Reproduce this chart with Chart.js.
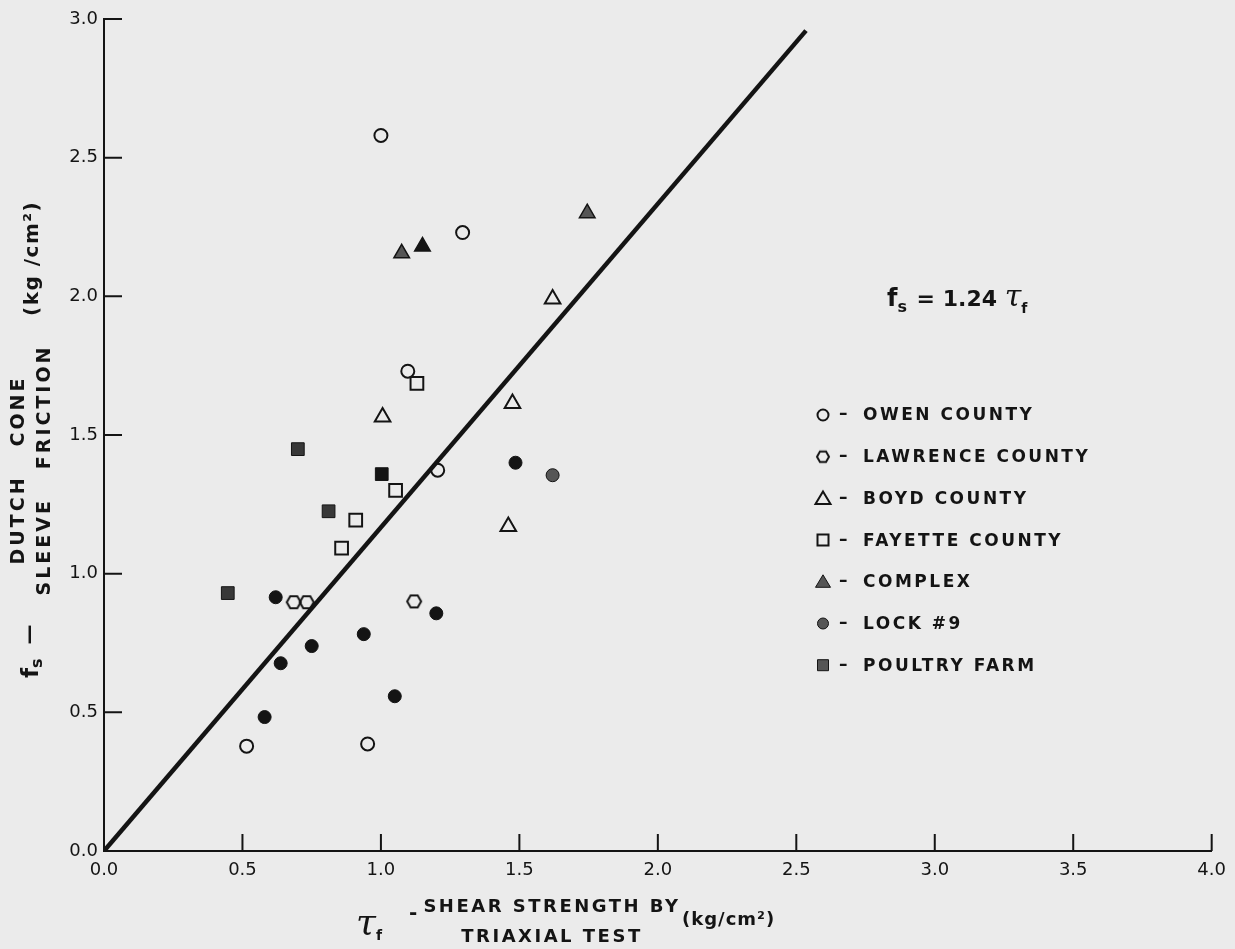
<!DOCTYPE html>
<html>
<head>
<meta charset="utf-8">
<script src="https://cdn.jsdelivr.net/npm/chart.js@4.4.0/dist/chart.umd.min.js"></script>
<style>
  html, body { margin: 0; padding: 0; background: #ebebeb; }
  #wrap { width: 1235px; height: 949px; position: relative; }
</style>
</head>
<body>
<div id="wrap"><canvas id="myChart"></canvas></div>
<script>
// values (tau_f, f_s in kg/cm2)
const owenX = [1.00, 1.295, 1.097, 1.205, 0.515, 0.952];
const owenY = [2.58, 2.23, 1.73, 1.373, 0.378, 0.386];

const lawrenceX = [0.685, 0.732, 1.12];
const lawrenceY = [0.897, 0.897, 0.90];

const boydX = [1.62, 1.475, 1.006, 1.46];
const boydY = [1.99, 1.614, 1.565, 1.17];

const fayetteX = [1.13, 1.053, 0.909, 0.858];
const fayetteY = [1.686, 1.30, 1.193, 1.092];

const complexX = [1.745, 1.15, 1.075];
const complexY = [2.30, 2.18, 2.155];

const lockX = [1.486, 1.62, 0.62, 1.20, 0.938, 0.75, 0.638, 1.05, 0.58];
const lockY = [1.40, 1.355, 0.915, 0.857, 0.782, 0.739, 0.677, 0.558, 0.483];

const poultryX = [0.70, 1.003, 0.811, 0.447];
const poultryY = [1.449, 1.359, 1.225, 0.93];

// fitted line fs = 1.24 tau_f as drawn
const fitX = [0, 2.535];
const fitY = [0, 2.958];

const xTickLabels = ["0.0", "0.5", "1.0", "1.5", "2.0", "2.5", "3.0", "3.5", "4.0"];
const yTickLabels = ["0.0", "0.5", "1.0", "1.5", "2.0", "2.5", "3.0"];

const INK = "#141414";
const GREY = "#555555";
const DARK = "#383838";
const FONT = "'DejaVu Sans', sans-serif";

function pts(xs, ys) {
  return xs.map((x, i) => ({ x: x, y: ys[i] }));
}

function makeHex(r, lw) {
  const c = document.createElement("canvas");
  const s = Math.ceil(2 * r + lw + 2);
  c.width = s;
  c.height = s;
  const g = c.getContext("2d");
  g.strokeStyle = INK;
  g.lineWidth = lw;
  g.beginPath();
  for (let k = 0; k < 6; k++) {
    const a = (Math.PI / 3) * k;
    const px = s / 2 + r * Math.cos(a);
    const py = s / 2 + r * Math.sin(a);
    if (k) g.lineTo(px, py); else g.moveTo(px, py);
  }
  g.closePath();
  g.stroke();
  return c;
}

const hexPlot = makeHex(7, 2);
const hexLegend = makeHex(6, 2);

const openStyle = {
  backgroundColor: "rgba(0,0,0,0)",
  borderColor: INK,
  borderWidth: 2,
};

const datasets = [
  {
    label: "OWEN COUNTY",
    data: pts(owenX, owenY),
    pointStyle: "circle",
    pointRadius: 6.5,
    ...openStyle,
  },
  {
    label: "LAWRENCE COUNTY",
    data: pts(lawrenceX, lawrenceY),
    pointStyle: hexPlot,
    pointRadius: 7,
    ...openStyle,
  },
  {
    label: "BOYD COUNTY",
    data: pts(boydX, boydY),
    pointStyle: "triangle",
    pointRadius: 9,
    ...openStyle,
  },
  {
    label: "FAYETTE COUNTY",
    data: pts(fayetteX, fayetteY),
    pointStyle: "rect",
    pointRadius: 9,
    ...openStyle,
  },
  {
    label: "COMPLEX",
    data: pts(complexX, complexY),
    pointStyle: "triangle",
    pointRadius: 9,
    backgroundColor: (c) => (c.dataIndex === 1 ? INK : GREY),
    borderColor: INK,
    borderWidth: 1.5,
  },
  {
    label: "LOCK #9",
    data: pts(lockX, lockY),
    pointStyle: "circle",
    pointRadius: 6.5,
    backgroundColor: (c) => (c.dataIndex === 1 ? GREY : INK),
    borderColor: INK,
    borderWidth: 1,
  },
  {
    label: "POULTRY FARM",
    data: pts(poultryX, poultryY),
    pointStyle: "rect",
    pointRadius: 9,
    backgroundColor: (c) => (c.dataIndex === 1 ? INK : DARK),
    borderColor: INK,
    borderWidth: 1,
  },
  {
    label: "fit",
    data: pts(fitX, fitY),
    showLine: true,
    pointRadius: 0,
    borderColor: INK,
    borderWidth: 4.5,
    order: 1,
  },
];

function spacedText(ctx, text, x, y, spacing) {
  ctx.letterSpacing = spacing + "px";
  ctx.fillText(text, x, y);
  ctx.letterSpacing = "0px";
}

// draw a row of text pieces from left to right
function runs(ctx, list, x, y) {
  let cx = x;
  list.forEach((r) => {
    ctx.font = r.font;
    ctx.letterSpacing = (r.sp || 0) + "px";
    ctx.fillText(r.t, cx + (r.dx || 0), y + (r.dy || 0));
    cx += ctx.measureText(r.t).width + (r.dx || 0);
  });
  ctx.letterSpacing = "0px";
}

function legendMarker(ctx, ds, x, y) {
  ctx.save();
  ctx.strokeStyle = INK;
  ctx.lineWidth = 2;
  const fill = typeof ds.backgroundColor === "function" ? GREY : null;
  ctx.fillStyle = fill || "rgba(0,0,0,0)";
  if (ds.pointStyle instanceof HTMLCanvasElement) {
    ctx.drawImage(hexLegend, x - hexLegend.width / 2, y - hexLegend.height / 2);
    ctx.restore();
    return;
  }
  ctx.beginPath();
  if (ds.pointStyle === "circle") {
    ctx.arc(x, y, 5.5, 0, Math.PI * 2);
  } else if (ds.pointStyle === "rect") {
    ctx.rect(x - 5.5, y - 5.5, 11, 11);
  } else {
    ctx.moveTo(x, y - 7);
    ctx.lineTo(x + 7.5, y + 5.5);
    ctx.lineTo(x - 7.5, y + 5.5);
    ctx.closePath();
  }
  if (fill) {
    ctx.fill();
    ctx.lineWidth = 1;
  }
  ctx.stroke();
  ctx.restore();
}

const decorations = {
  id: "decorations",
  beforeDraw(chart) {
    const ctx = chart.ctx;
    ctx.save();
    ctx.fillStyle = "#ebebeb";
    ctx.fillRect(0, 0, chart.width, chart.height);
    ctx.restore();
  },
  afterDraw(chart) {
    const ctx = chart.ctx;
    const { x, y } = chart.scales;
    const area = chart.chartArea;
    ctx.save();

    // inward tick marks
    ctx.strokeStyle = INK;
    ctx.lineWidth = 2;
    ctx.beginPath();
    x.ticks.forEach((t) => {
      if (t.value === 0) return;
      const px = x.getPixelForValue(t.value);
      ctx.moveTo(px, area.bottom);
      ctx.lineTo(px, area.bottom - 17);
    });
    y.ticks.forEach((t) => {
      if (t.value === 0) return;
      const py = y.getPixelForValue(t.value);
      ctx.moveTo(area.left, py);
      ctx.lineTo(area.left + 18, py);
    });
    ctx.stroke();

    ctx.fillStyle = INK;
    ctx.textBaseline = "alphabetic";

    // y axis title (rotated)
    ctx.save();
    ctx.translate(24, 470);
    ctx.rotate(-Math.PI / 2);
    ctx.textAlign = "center";
    ctx.font = "bold 19px " + FONT;
    spacedText(ctx, "DUTCH   CONE", 0, 0, 3);
    spacedText(ctx, "SLEEVE   FRICTION", 0, 26, 3);
    ctx.restore();

    ctx.save();
    ctx.translate(38, 678);
    ctx.rotate(-Math.PI / 2);
    ctx.textAlign = "left";
    runs(ctx, [
      { t: "f", font: "bold 23px " + FONT },
      { t: "s", font: "bold 16px " + FONT, dy: 4 },
      { t: "—", font: "bold 20px " + FONT, dx: 14, dy: -3 },
    ], 0, 0);
    ctx.restore();

    ctx.save();
    ctx.translate(38, 316);
    ctx.rotate(-Math.PI / 2);
    ctx.textAlign = "left";
    runs(ctx, [{ t: "(kg /cm²)", font: "bold 20px " + FONT, sp: 1.5 }], 0, 0);
    ctx.restore();

    // x axis title
    ctx.textAlign = "left";
    runs(ctx, [
      { t: "τ", font: "italic 36px 'DejaVu Serif', serif" },
      { t: "f", font: "bold 14px " + FONT, dy: 6 },
    ], 356, 934);
    ctx.font = "bold 20px " + FONT;
    ctx.fillText("-", 409, 919);
    ctx.textAlign = "center";
    ctx.font = "bold 18px " + FONT;
    spacedText(ctx, "SHEAR STRENGTH BY", 552, 912, 2.5);
    spacedText(ctx, "TRIAXIAL TEST", 552, 942, 2.5);
    ctx.textAlign = "left";
    runs(ctx, [{ t: "(kg/cm²)", font: "bold 18px " + FONT, sp: 1 }], 682, 925);

    // equation
    runs(ctx, [
      { t: "f", font: "bold 24px " + FONT },
      { t: "s", font: "bold 16px " + FONT, dy: 6 },
      { t: " = 1.24 ", font: "bold 22px " + FONT, dx: 2 },
      { t: "τ", font: "italic 30px 'DejaVu Serif', serif" },
      { t: "f", font: "bold 14px " + FONT, dy: 7 },
    ], 887, 306);

    // legend
    const dsList = chart.data.datasets.slice(0, 7);
    dsList.forEach((ds, i) => {
      const ly = 415 + i * 41.7;
      legendMarker(ctx, ds, 823, ly);
      ctx.font = "bold 17px " + FONT;
      ctx.textAlign = "left";
      ctx.textBaseline = "middle";
      ctx.fillText("–", 839, ly);
      spacedText(ctx, ds.label, 863, ly + 1, 2.5);
      ctx.textBaseline = "alphabetic";
    });

    ctx.restore();
  },
};

const ctx = document.getElementById("myChart").getContext("2d");

const config = {
  type: "scatter",
  data: { datasets: datasets },
  options: {
    responsive: true,
    maintainAspectRatio: false,
    animation: false,
    layout: { padding: { left: 0, right: 22, top: 19, bottom: 0 } },
    scales: {
      x: {
        type: "linear",
        min: 0,
        max: 4,
        afterFit: (s) => { s.height = 98; },
        grid: { display: true, drawOnChartArea: false, drawTicks: false },
        border: { display: true, color: INK, width: 2 },
        ticks: {
          stepSize: 0.5,
          padding: 9,
          color: INK,
          font: { family: FONT, size: 18 },
          callback: (v, i) => xTickLabels[i],
        },
      },
      y: {
        type: "linear",
        min: 0,
        max: 3,
        afterFit: (s) => { s.width = 104; },
        grid: { display: true, drawOnChartArea: false, drawTicks: false },
        border: { display: true, color: INK, width: 2 },
        ticks: {
          stepSize: 0.5,
          padding: 6,
          color: INK,
          font: { family: FONT, size: 18 },
          callback: (v, i) => yTickLabels[i],
        },
      },
    },
    plugins: {
      legend: { display: false },
      tooltip: { enabled: false },
      title: { display: false },
    },
  },
  plugins: [decorations],
};

const myChart = new Chart(ctx, config);
</script>
</body>
</html>
